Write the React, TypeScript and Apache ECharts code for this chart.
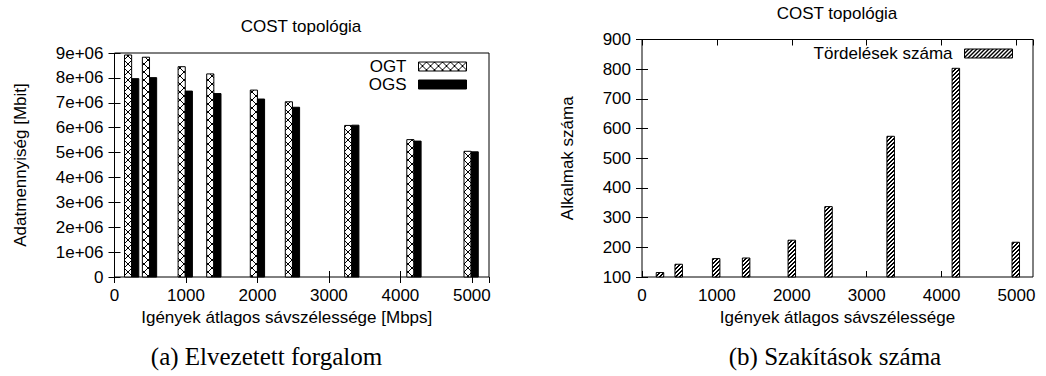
import React, { useEffect, useRef } from 'react';
import * as echarts from 'echarts';

// ---- data ----
const bandwidths = [240, 490, 990, 1390, 2000, 2490, 3320, 4190, 4990];
const ogtValues = [8.92e6, 8.83e6, 8.45e6, 8.16e6, 7.51e6, 7.04e6, 6.09e6, 5.52e6, 5.05e6];
const ogsValues = [7.97e6, 8.01e6, 7.47e6, 7.37e6, 7.15e6, 6.82e6, 6.1e6, 5.46e6, 5.03e6];
const breakCounts = [115, 143, 162, 164, 224, 337, 574, 803, 217];
const seriesNames = ['OGT', 'OGS', 'Tördelések száma'];
const titles = ['COST topológia', 'COST topológia'];
const xAxisNames = ['Igények átlagos sávszélessége [Mbps]', 'Igények átlagos sávszélessége'];
const yAxisNames = ['Adatmennyiség [Mbit]', 'Alkalmak száma'];
const captions = ['(a) Elvezetett forgalom', '(b) Szakítások száma'];

const FONT = '"Liberation Sans", Arial, Helvetica, sans-serif';
const FS = 17;
const BAR_W = 100;

function makePattern(size: number, pixels: [number, number][]) {
  const c = document.createElement('canvas');
  c.width = size;
  c.height = size;
  const ctx = c.getContext('2d')!;
  ctx.fillStyle = '#fff';
  ctx.fillRect(0, 0, size, size);
  ctx.fillStyle = '#000';
  pixels.forEach(([x, y]) => ctx.fillRect(x, y, 1, 1));
  return { image: c.toDataURL(), repeat: 'repeat', imageWidth: size, imageHeight: size } as any;
}

export default function App() {
  const ref = useRef<HTMLDivElement>(null);
  useEffect(() => {
    if (!ref.current) return;
    const chart = echarts.init(ref.current, undefined, { renderer: 'svg' });

    const crossPx: [number, number][] = [];
    for (let i = 0; i < 8; i++) {
      crossPx.push([i, i]);
      crossPx.push([i, 7 - i]);
    }
    const crossPattern = makePattern(8, crossPx);
    const hatchPx: [number, number][] = [];
    for (let i = 0; i < 4; i++) {
      hatchPx.push([i, 3 - i]);
      hatchPx.push([i, (4 - i) % 4]);
    }
    const hatchPattern = makePattern(4, hatchPx);

    const axisLbl = { fontSize: FS, fontFamily: FONT, color: '#000' };
    const tick = { show: true, inside: true, length: 6, lineStyle: { color: '#000', width: 1 } };
    const plain = (v: number) => String(v);

    const mkBar = (dx0: number, dx1: number, base: number, fill: any) =>
      (params: any, api: any) => {
        const x = api.value(0);
        const y = api.value(1);
        const p0 = api.coord([x + dx0, y]);
        const p1 = api.coord([x + dx1, base]);
        return {
          type: 'rect',
          shape: { x: p0[0], y: p0[1], width: p1[0] - p0[0], height: p1[1] - p0[1] },
          style: { fill, stroke: '#000', lineWidth: 1 },
        };
      };

    const option: any = {
      animation: false,
      backgroundColor: '#fff',
      title: [
        { text: titles[0], left: 301, top: 18, textAlign: 'center', padding: 0,
          textStyle: { fontSize: FS, fontWeight: 'normal', fontFamily: FONT, color: '#000' } },
        { text: titles[1], left: 837, top: 5, textAlign: 'center', padding: 0,
          textStyle: { fontSize: FS, fontWeight: 'normal', fontFamily: FONT, color: '#000' } },
      ],
      legend: [
        {
          data: [
            { name: seriesNames[0], itemStyle: { color: crossPattern, borderColor: '#000', borderWidth: 1 } },
            { name: seriesNames[1], itemStyle: { color: '#000', borderColor: '#000', borderWidth: 1 } },
          ],
          orient: 'vertical', right: 579, top: 58, align: 'right', icon: 'rect',
          itemWidth: 48, itemHeight: 9, itemGap: 1, padding: 0, selectedMode: false,
          textStyle: { fontSize: FS, fontFamily: FONT, color: '#000', padding: [0, 7, 0, 0] },
        },
        {
          data: [
            { name: seriesNames[2], itemStyle: { color: hatchPattern, borderColor: '#000', borderWidth: 1 } },
          ],
          orient: 'vertical', right: 33, top: 45, align: 'right', icon: 'rect',
          itemWidth: 48, itemHeight: 9, itemGap: 1, padding: 0, selectedMode: false,
          textStyle: { fontSize: FS, fontFamily: FONT, color: '#000', padding: [0, 7, 0, 0] },
        },
      ],
      grid: [
        { left: 114.5, top: 53, width: 374.5, height: 224, show: true, borderColor: '#000', borderWidth: 1, backgroundColor: 'transparent' },
        { left: 642, top: 39.5, width: 391, height: 237.5, show: true, borderColor: '#000', borderWidth: 1, backgroundColor: 'transparent' },
      ],
      xAxis: [
        {
          type: 'value', gridIndex: 0, position: 'bottom', min: 0, max: 5240, interval: 1000,
          axisLine: { show: false }, axisTick: tick, splitLine: { show: false },
          axisLabel: { ...axisLbl, margin: 10, showMaxLabel: false, formatter: plain },
          name: xAxisNames[0], nameLocation: 'middle', nameGap: 32,
          nameTextStyle: { fontSize: FS, fontFamily: FONT, color: '#000', padding: [0, 30, 0, 0] },
        },
        {
          type: 'value', gridIndex: 0, position: 'top', min: 0, max: 5240, interval: 1000,
          axisLine: { show: false }, axisTick: tick, splitLine: { show: false }, axisLabel: { show: false },
        },
        {
          type: 'value', gridIndex: 1, position: 'bottom', min: 0, max: 5220, interval: 1000,
          axisLine: { show: false }, axisTick: tick, splitLine: { show: false },
          axisLabel: { ...axisLbl, margin: 10, showMaxLabel: false, formatter: plain },
          name: xAxisNames[1], nameLocation: 'middle', nameGap: 32,
          nameTextStyle: { fontSize: FS, fontFamily: FONT, color: '#000' },
        },
        {
          type: 'value', gridIndex: 1, position: 'top', min: 0, max: 5220, interval: 1000,
          axisLine: { show: false }, axisTick: tick, splitLine: { show: false }, axisLabel: { show: false },
        },
      ],
      yAxis: [
        {
          type: 'value', gridIndex: 0, position: 'left', min: 0, max: 9e6, interval: 1e6,
          axisLine: { show: false }, axisTick: tick, splitLine: { show: false },
          axisLabel: { ...axisLbl, margin: 11, formatter: (v: number) => (v === 0 ? '0' : `${Math.round(v / 1e6)}e+06`) },
          name: yAxisNames[0], nameLocation: 'middle', nameGap: 86,
          nameTextStyle: { fontSize: FS, fontFamily: FONT, color: '#000' },
        },
        {
          type: 'value', gridIndex: 0, position: 'right', min: 0, max: 9e6, interval: 1e6,
          axisLine: { show: false }, axisTick: tick, splitLine: { show: false }, axisLabel: { show: false },
        },
        {
          type: 'value', gridIndex: 1, position: 'left', min: 100, max: 900, interval: 100,
          axisLine: { show: false }, axisTick: tick, splitLine: { show: false },
          axisLabel: { ...axisLbl, margin: 11, formatter: plain },
          name: yAxisNames[1], nameLocation: 'middle', nameGap: 66,
          nameTextStyle: { fontSize: FS, fontFamily: FONT, color: '#000' },
        },
        {
          type: 'value', gridIndex: 1, position: 'right', min: 100, max: 900, interval: 100,
          axisLine: { show: false }, axisTick: tick, splitLine: { show: false }, axisLabel: { show: false },
        },
      ],
      series: [
        {
          name: seriesNames[0], type: 'custom', xAxisIndex: 0, yAxisIndex: 0,
          itemStyle: { color: crossPattern, borderColor: '#000', borderWidth: 1 },
          data: bandwidths.map((b, i) => [b, ogtValues[i]]),
          renderItem: mkBar(-BAR_W, 0, 0, crossPattern),
        },
        {
          name: seriesNames[1], type: 'custom', xAxisIndex: 0, yAxisIndex: 0,
          itemStyle: { color: '#000', borderColor: '#000', borderWidth: 1 },
          data: bandwidths.map((b, i) => [b, ogsValues[i]]),
          renderItem: mkBar(0, BAR_W, 0, '#000'),
        },
        {
          name: seriesNames[2], type: 'custom', xAxisIndex: 2, yAxisIndex: 2,
          itemStyle: { color: hatchPattern, borderColor: '#000', borderWidth: 1 },
          data: bandwidths.map((b, i) => [b, breakCounts[i]]),
          renderItem: mkBar(-BAR_W / 2, BAR_W / 2, 100, hatchPattern),
        },
      ],
      graphic: [
        { type: 'text', x: 266.5, y: 356, style: { text: captions[0], font: '25px "Liberation Serif", "Times New Roman", serif', fill: '#000', align: 'center', verticalAlign: 'middle' } },
        { type: 'text', x: 835, y: 356, style: { text: captions[1], font: '25px "Liberation Serif", "Times New Roman", serif', fill: '#000', align: 'center', verticalAlign: 'middle' } },
      ],
    };
    chart.setOption(option);
    return () => chart.dispose();
  }, []);
  return <div ref={ref} style={{ position: 'fixed', left: 0, top: 0, width: 1046, height: 376, background: '#fff' }} />;
}
